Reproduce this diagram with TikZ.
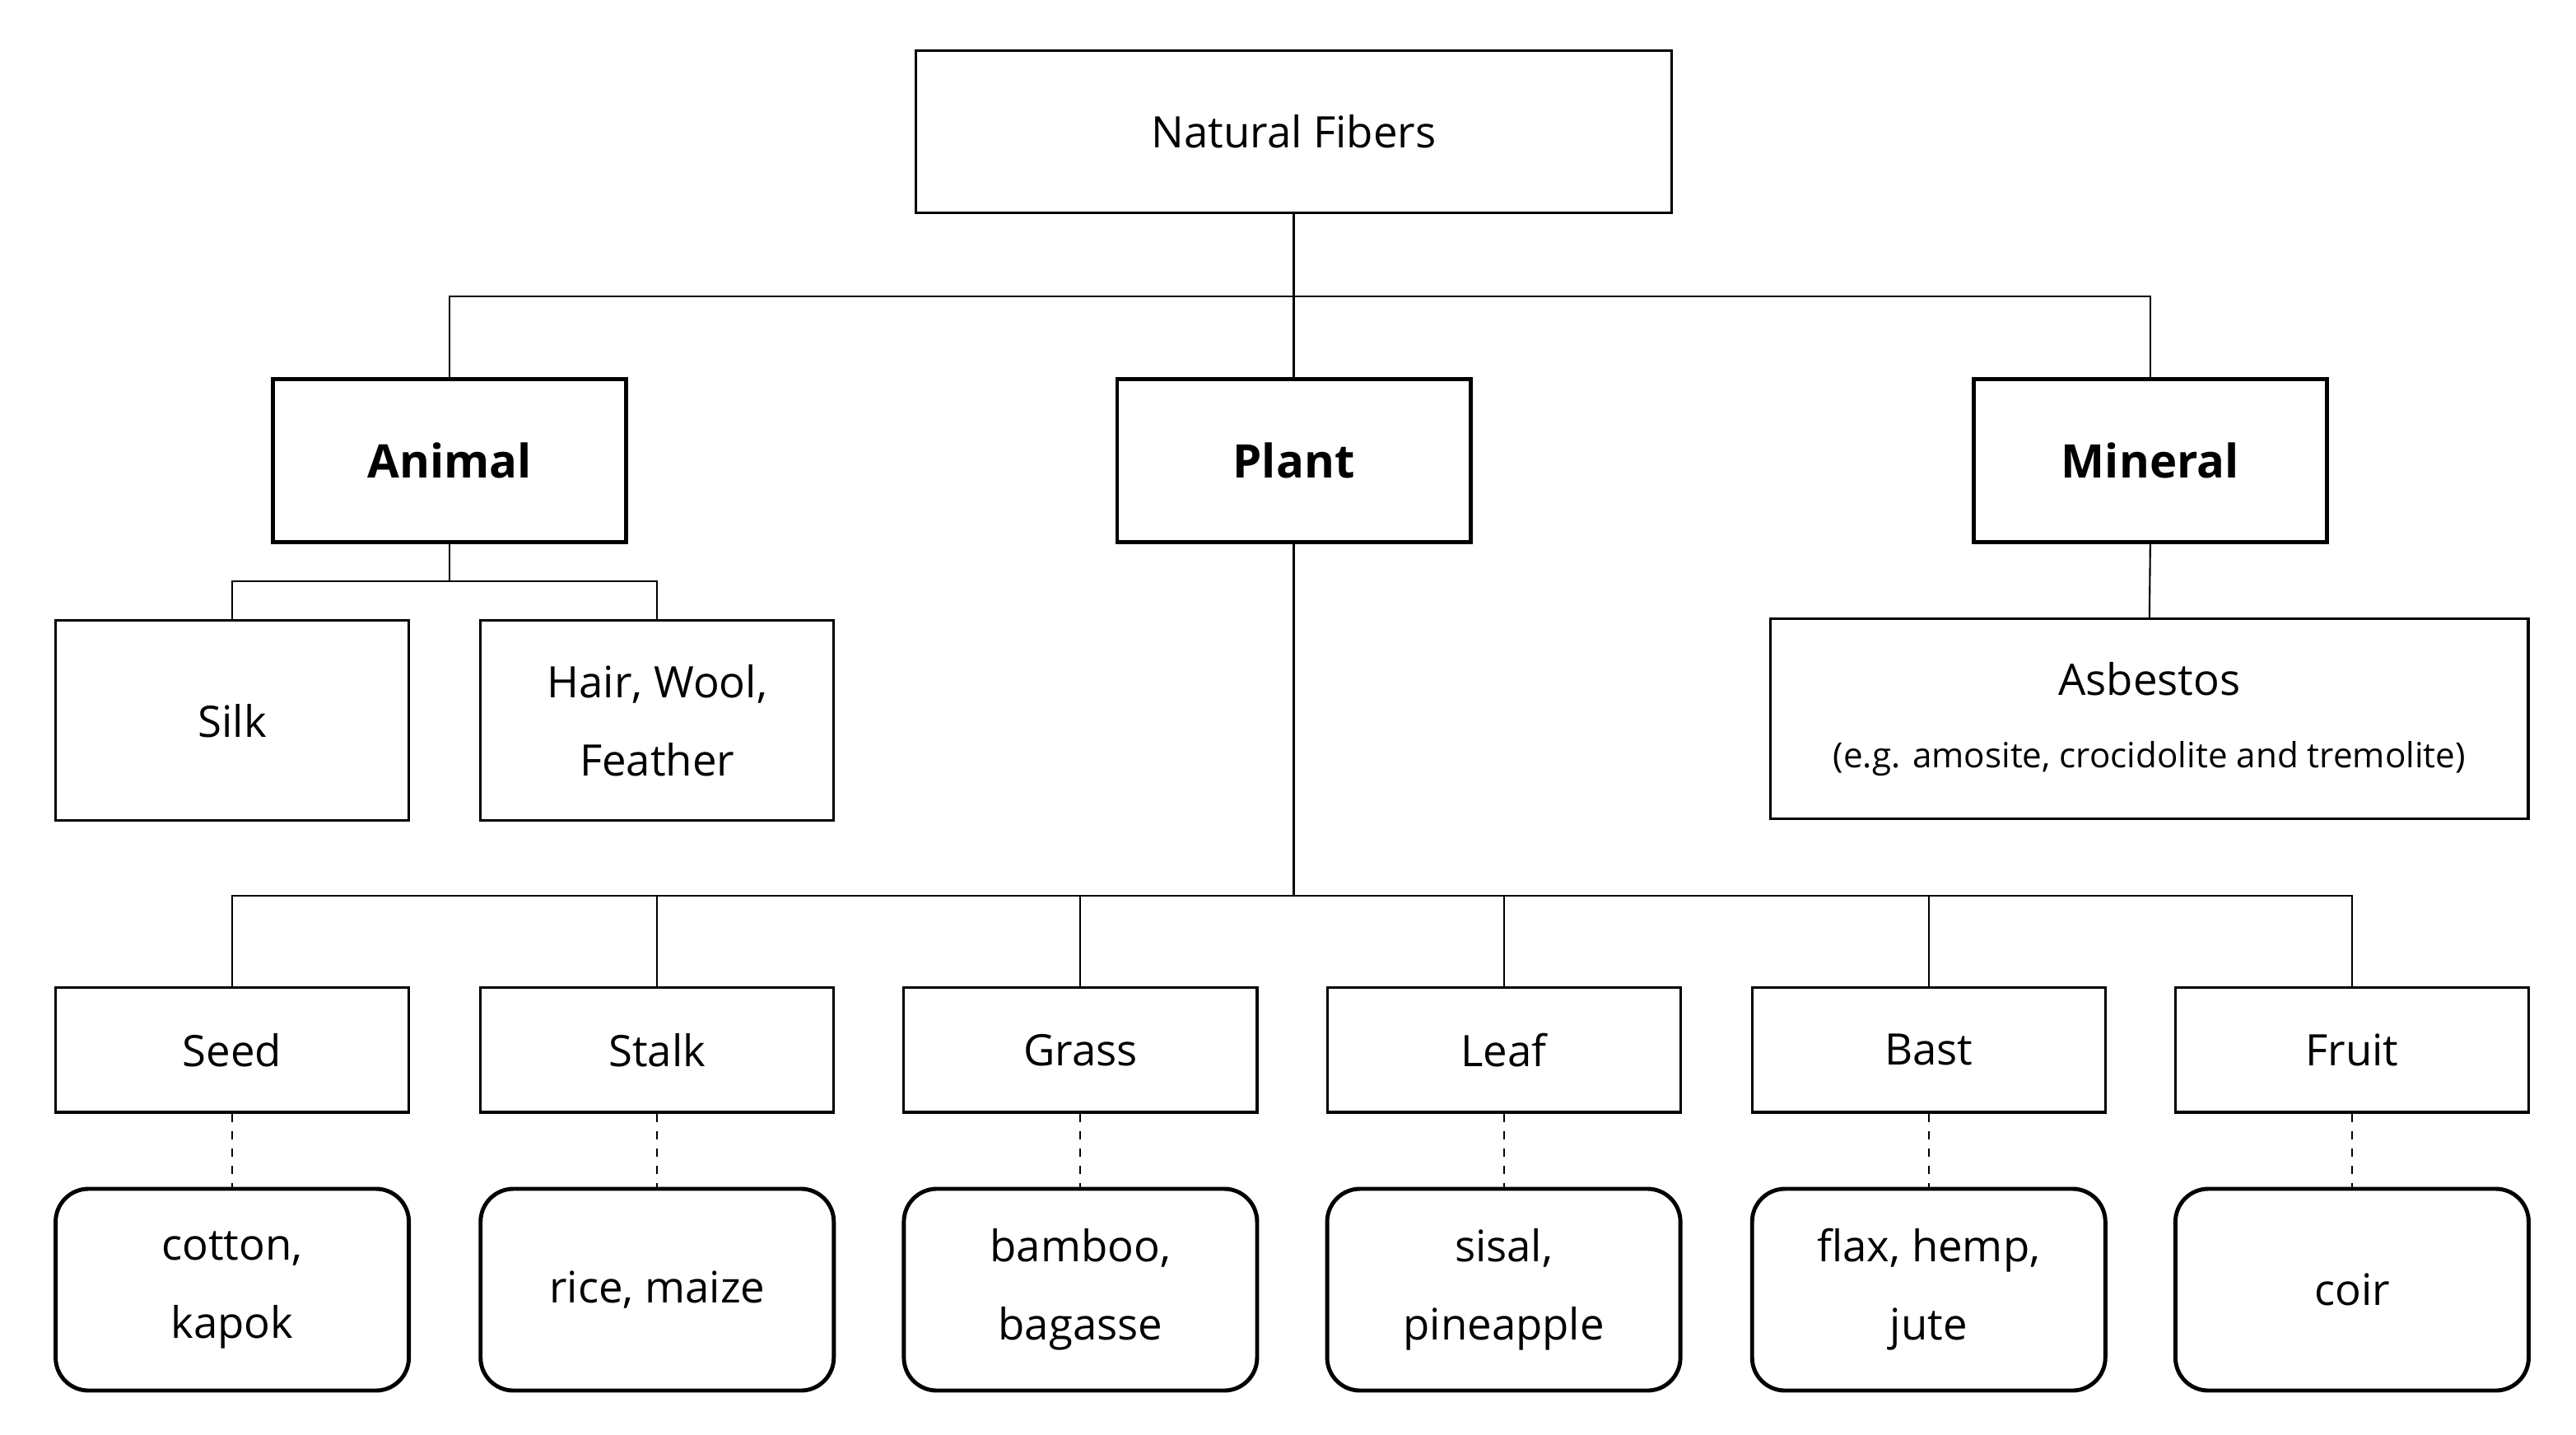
\documentclass[tikz,border=0pt]{standalone}
\usepackage{fontspec}
\setmainfont{Open Sans}
\begin{document}
\begin{tikzpicture}[x=0.02cm,y=-0.02cm,
  box/.style={draw,line width=0.9pt,minimum width=4.29cm,inner sep=0pt,font=\fontsize{15}{27}\selectfont,align=center},
  bbox/.style={box,line width=1.4pt,font=\bfseries\fontsize{16}{20}\selectfont},
  rbox/.style={box,line width=1.4pt,rounded corners=0.4cm,minimum height=2.45cm},
  ln/.style={line width=0.6pt},
  dl/.style={ln,dashed}]
\useasboundingbox (2,0) rectangle (1566,871);
\node[box,minimum width=9.18cm,minimum height=1.97cm] (nf) at (787.5,80) {Natural Fibers};
\node[bbox,minimum height=1.98cm] (an) at (275,279.5) {Animal};
\node[bbox,minimum height=1.98cm] (pl) at (787.5,279.5) {Plant};
\node[bbox,minimum height=1.98cm] (mi) at (1307.5,279.5) {Mineral};
\node[box,minimum height=2.43cm] (si) at (143,437.5) {Silk};
\node[box,minimum height=2.43cm] (ha) at (401,437.5) {Hair, Wool,\\Feather};
\node[box,minimum width=9.2cm,minimum height=2.43cm] (as) at (1307,436.5) {Asbestos\\[-2pt]{\fontsize{12}{16}\selectfont (e.g. amosite, crocidolite and tremolite)}};
\coordinate (j1) at (787.5,180);
\draw[ln] (nf.south) -- (j1);
\draw[ln] (an.north) |- (j1) -| (mi.north);
\draw[ln] (j1) -- (pl.north);
\coordinate (j2) at (275,353);
\draw[ln] (an.south) -- (j2);
\draw[ln] (j2) -| (si.north);
\draw[ln] (j2) -| (ha.north);
\draw[ln] (mi.south) -- (as.north);
\coordinate (j3) at (787.5,544);
\draw[ln] (pl.south) -- (j3);
\foreach \n/\x/\t/\e in {se/143/Seed/{cotton,\\kapok},st/401/Stalk/{rice, maize},gr/658/Grass/{bamboo,\\bagasse},le/915/Leaf/{sisal,\\pineapple},ba/1173/Bast/{flax, hemp,\\jute},fr/1430/Fruit/{coir}}{
  \node[box,minimum height=1.51cm] (\n) at (\x,637.5) {\t};
  \node[rbox] (\n e) at (\x,783) {\e};
  \draw[ln] (j3) -| (\n.north);
  \draw[dl] (\n.south) -- (\n e.north);
}
\end{tikzpicture}
\end{document}
